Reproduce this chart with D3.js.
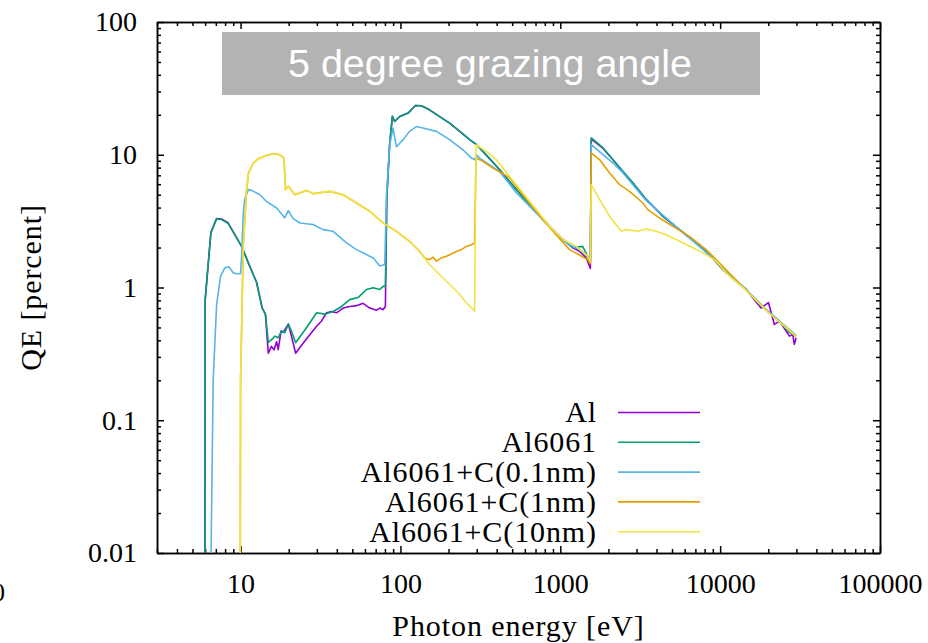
<!DOCTYPE html>
<html lang="en">
<head>
<meta charset="UTF-8">
<title>QE vs photon energy, 5 degree grazing angle</title>
<script src="https://d3js.org/d3.v7.min.js"></script>
<style>
  body { margin: 0; background: #fff; }
  .axis path, .axis line { stroke: #000; stroke-width: 1.5px; }
  .axis text { font-family: "Liberation Serif", serif; font-size: 28px; fill: #000; }
  .label { font-family: "Liberation Serif", serif; font-size: 30px; letter-spacing: 0.9px; fill: #000; }
  .legend text { font-family: "Liberation Serif", serif; font-size: 30px; letter-spacing: 0.9px; fill: #000; }
  .series { fill: none; stroke-width: 1.6px; stroke-linejoin: round; }
</style>
</head>
<body>
<div id="chart"></div>
<script>
// photon energy [eV], QE [percent]
const seriesNames = ["Al", "Al6061", "Al6061+C(0.1nm)", "Al6061+C(1nm)", "Al6061+C(10nm)"];
const seriesColors = ["#9400d3", "#009e73", "#56b4e9", "#e69f00", "#f0e442"];

const al = [
  [5.98, 0.001], [6.0, 0.8], [6.52, 2.59], [7.08, 3.30], [7.61, 3.28], [8.34, 3.08], [9.2, 2.50],
  [10.15, 2.04], [11.4, 1.45], [12.6, 1.09], [13.65, 0.70], [14.3, 0.63], [14.9, 0.32], [15.6, 0.36],
  [16.2, 0.34], [16.8, 0.39], [17.2, 0.34], [17.9, 0.47], [18.5, 0.46], [19.9, 0.53], [20.8, 0.43],
  [22.1, 0.32], [24.6, 0.38], [27.1, 0.44], [29.9, 0.51], [32.1, 0.56], [34.5, 0.645], [37.1, 0.66],
  [39.8, 0.645], [43.8, 0.70], [48.2, 0.72], [53.1, 0.73], [58.4, 0.76], [64.3, 0.70], [70.8, 0.675],
  [74.3, 0.70], [77.9, 0.68], [80.5, 0.72], [82.1, 4.59], [85.7, 12.2], [89.1, 19.4], [92.0, 17.8],
  [99.1, 19.4], [111.7, 20.6], [120, 22.5], [124, 23.5], [135, 23.4], [152, 21.8], [176, 19.4],
  [203, 17.3], [235, 15.0], [271, 13.0], [299, 11.9], [328, 10.6], [418, 7.7], [531, 5.46],
  [674, 3.97], [857, 2.89], [1038, 2.30], [1199, 1.99], [1321, 1.87], [1455, 1.67], [1542, 1.39],
  [1563, 13.1], [1846, 11.2], [2133, 9.17], [2461, 7.48], [2844, 6.12], [3451, 4.59], [4375, 3.44],
  [5570, 2.73], [7080, 2.17], [8990, 1.67], [10380, 1.37], [12590, 1.11], [14550, 0.966],
  [16000, 0.837], [18030, 0.70], [20050, 0.77], [21840, 0.527], [23480, 0.558], [25880, 0.47],
  [27100, 0.43], [28440, 0.443], [29110, 0.373], [29850, 0.418]
];

const al6061 = [
  [5.98, 0.001], [6.0, 0.8], [6.52, 2.59], [7.08, 3.30], [7.61, 3.25], [8.34, 3.05], [9.2, 2.50],
  [10.15, 2.04], [11.4, 1.45], [12.6, 1.09], [13.65, 0.70], [14.3, 0.63], [14.9, 0.386], [15.7, 0.406],
  [16.4, 0.43], [17.2, 0.418], [18.0, 0.47], [18.9, 0.456], [19.9, 0.53], [20.8, 0.47], [22.1, 0.384],
  [25.9, 0.50], [29.9, 0.645], [33.6, 0.63], [37.9, 0.66], [42.8, 0.72], [48.2, 0.81], [54.3, 0.84],
  [61.3, 0.966], [67.5, 0.995], [74.3, 0.966], [77.9, 1.02], [80.5, 1.02], [82.1, 4.7], [85.7, 12.4],
  [89.1, 19.6], [92.0, 17.8], [99.1, 19.4], [111.7, 20.6], [120, 22.5], [124, 23.5], [135, 23.4],
  [152, 21.8], [176, 19.4], [203, 17.3], [235, 15.0], [271, 13.0], [299, 11.9], [328, 10.6],
  [418, 7.7], [531, 5.46], [674, 3.97], [857, 2.89], [1038, 2.30], [1199, 2.0], [1380, 2.04],
  [1455, 1.8], [1542, 1.57], [1563, 13.4], [1846, 11.3], [2133, 9.2], [2461, 7.5], [2844, 6.15],
  [3451, 4.6], [4375, 3.45], [5570, 2.73], [7080, 2.17], [8990, 1.67], [10380, 1.37], [12590, 1.11],
  [14550, 0.966], [16000, 0.84], [18030, 0.73], [20300, 0.65], [23480, 0.555], [27100, 0.459],
  [29850, 0.428]
];

const c01nm = [
  [6.43, 0.002], [6.74, 0.203], [7.08, 0.745], [7.5, 1.22], [7.98, 1.41], [8.45, 1.43], [8.99, 1.29],
  [9.44, 1.27], [10.0, 1.27], [10.15, 1.72], [10.4, 3.64], [10.6, 4.59], [11.2, 5.46], [11.7, 5.39],
  [13.2, 5.0], [14.5, 4.46], [16.8, 3.97], [18.9, 3.34], [19.9, 3.79], [21.3, 3.30], [23.5, 3.06],
  [28.4, 2.98], [32.8, 2.73], [37.9, 2.65], [46.0, 2.17], [53.1, 1.93], [61.3, 1.77], [67.5, 1.67],
  [74.3, 1.45], [79.8, 1.49], [81.8, 5.0], [85.7, 11.9], [89.9, 15.9], [94.4, 11.5], [104, 13.0],
  [114, 15.0], [126, 16.3], [138, 15.9], [168, 15.0], [203, 13.0], [246, 10.9], [278, 9.44],
  [291, 9.17], [299, 10.0], [313, 9.44], [418, 7.45], [531, 5.18], [674, 3.86], [857, 2.87],
  [1038, 2.26], [1199, 2.03], [1321, 1.93], [1455, 1.74], [1542, 1.57], [1563, 11.9], [2133, 8.66],
  [2461, 7.33], [3451, 4.51], [5570, 2.73], [8990, 1.67], [14550, 0.966], [20300, 0.65], [29850, 0.436]
];

const c1nm = [
  [9.94, 0.002], [10.0, 0.203], [10.4, 2.04], [10.9, 5.46], [11.2, 7.28], [12.0, 8.66], [12.9, 9.33],
  [14.5, 9.88], [16.0, 10.2], [17.6, 10.0], [18.7, 9.44], [19.1, 5.46], [19.9, 5.78], [21.8, 5.0],
  [25.9, 5.39], [28.4, 5.09], [36.1, 5.30], [43.8, 5.0], [53.1, 4.33], [64.3, 3.75], [77.9, 3.06],
  [94.4, 2.65], [114, 2.23], [132, 1.87], [142, 1.67], [152, 1.62], [160, 1.69], [168, 1.58],
  [180, 1.67], [194, 1.72], [208, 1.79], [224, 1.87], [241, 1.93], [258, 2.04], [278, 2.1],
  [291, 2.17], [297, 9.44], [328, 8.91], [379, 7.94], [482, 6.72], [584, 5.0],
  [708, 3.73], [857, 2.83], [1143, 1.93], [1488, 1.62], [1542, 1.51], [1563, 10.3], [1762, 9.17],
  [2033, 7.28], [2350, 5.95], [2712, 5.30], [3283, 4.33], [3528, 3.86], [4170, 3.34], [5058, 2.89],
  [6427, 2.43], [8176, 1.93], [9910, 1.53], [14550, 0.95], [20300, 0.64], [29850, 0.428]
];

const c10nm = [
  [9.94, 0.002], [10.0, 0.203], [10.4, 2.04], [10.9, 5.46], [11.2, 7.28], [12.0, 8.66], [12.9, 9.33],
  [14.5, 9.88], [16.0, 10.2], [17.6, 10.0], [18.7, 9.44], [19.1, 5.46], [19.9, 5.78], [21.8, 5.0],
  [25.9, 5.39], [28.4, 5.09], [36.1, 5.30], [43.8, 5.0], [53.1, 4.33], [64.3, 3.75], [77.9, 3.06],
  [94.4, 2.65], [114, 2.23], [132, 1.87], [152, 1.49], [185, 1.18], [213, 0.995], [235, 0.886],
  [258, 0.767], [278, 0.703], [291, 0.663], [297, 11.9], [345, 10.6], [398, 9.17], [482, 6.87],
  [584, 5.15], [708, 3.86], [857, 2.89], [1038, 2.30], [1259, 2.04], [1488, 1.72], [1542, 1.57],
  [1563, 5.95], [1762, 4.59], [2033, 3.44], [2405, 2.65], [2585, 2.73], [3055, 2.65], [3451, 2.76],
  [3981, 2.65], [4597, 2.50], [5570, 2.23], [6745, 1.99], [8176, 1.77], [9440, 1.58], [10900, 1.29],
  [14550, 0.95], [20300, 0.64], [29850, 0.428]
];

const allSeries = [al, al6061, c01nm, c1nm, c10nm];

const xMajor = [10, 100, 1000, 10000, 100000];
const yMajor = [0.01, 0.1, 1, 10, 100];
const yTickLabels = ["0.01", "0.1", "1", "10", "100"];

const width = 928, height = 643;
const plotL = 157, plotR = 880, plotT = 22, plotB = 553;

const x = d3.scaleLog().domain([3, 100000]).range([plotL, plotR]);
const y = d3.scaleLog().domain([0.01, 100]).range([plotB, plotT]);

// minor ticks 2..9 in each decade
const xMinor = [];
[1, 10, 100, 1000, 10000].forEach(d => {
  for (let k = 2; k <= 9; k++) if (d * k >= 3 && d * k <= 100000) xMinor.push(d * k);
});
const yMinor = [];
[0.01, 0.1, 1, 10].forEach(d => {
  for (let k = 2; k <= 9; k++) yMinor.push(d * k);
});

const svg = d3.select("#chart").append("svg")
  .attr("width", width)
  .attr("height", height);

svg.append("defs").append("clipPath").attr("id", "plot-clip")
  .append("rect")
  .attr("x", plotL).attr("y", plotT)
  .attr("width", plotR - plotL).attr("height", plotB - plotT);

// axes with inward ticks, mirrored top and right (no labels there)
const major = 7, minor = 4;

svg.append("g").attr("class", "axis")
  .attr("transform", `translate(0,${plotB})`)
  .call(d3.axisBottom(x).tickValues(xMajor).tickFormat(d3.format("d"))
    .tickSizeInner(-major).tickSizeOuter(0).tickPadding(20));
svg.append("g").attr("class", "axis")
  .attr("transform", `translate(0,${plotB})`)
  .call(d3.axisBottom(x).tickValues(xMinor).tickFormat("").tickSizeInner(-minor).tickSizeOuter(0));
svg.append("g").attr("class", "axis")
  .attr("transform", `translate(0,${plotT})`)
  .call(d3.axisTop(x).tickValues(xMajor).tickFormat("").tickSizeInner(-major).tickSizeOuter(0));
svg.append("g").attr("class", "axis")
  .attr("transform", `translate(0,${plotT})`)
  .call(d3.axisTop(x).tickValues(xMinor).tickFormat("").tickSizeInner(-minor).tickSizeOuter(0));

svg.append("g").attr("class", "axis")
  .attr("transform", `translate(${plotL},0)`)
  .call(d3.axisLeft(y).tickValues(yMajor).tickFormat((d, i) => yTickLabels[i])
    .tickSizeInner(-major).tickSizeOuter(0).tickPadding(20));
svg.append("g").attr("class", "axis")
  .attr("transform", `translate(${plotL},0)`)
  .call(d3.axisLeft(y).tickValues(yMinor).tickFormat("").tickSizeInner(-minor).tickSizeOuter(0));
svg.append("g").attr("class", "axis")
  .attr("transform", `translate(${plotR},0)`)
  .call(d3.axisRight(y).tickValues(yMajor).tickFormat("").tickSizeInner(-major).tickSizeOuter(0));
svg.append("g").attr("class", "axis")
  .attr("transform", `translate(${plotR},0)`)
  .call(d3.axisRight(y).tickValues(yMinor).tickFormat("").tickSizeInner(-minor).tickSizeOuter(0));

// title box
svg.append("rect")
  .attr("x", 222).attr("y", 32)
  .attr("width", 538).attr("height", 63)
  .attr("fill", "#b3b3b3");
svg.append("text")
  .attr("x", 490).attr("y", 77)
  .attr("text-anchor", "middle")
  .style("font-family", "'Liberation Sans', Arial, sans-serif")
  .style("font-size", "39.5px")
  .style("fill", "#fff")
  .text("5 degree grazing angle");

// curves
const line = d3.line().x(d => x(d[0])).y(d => y(d[1]));
svg.append("g").attr("clip-path", "url(#plot-clip)")
  .selectAll("path")
  .data(allSeries)
  .join("path")
  .attr("class", "series")
  .attr("stroke", (d, i) => seriesColors[i])
  .attr("d", line);

// legend
const legend = svg.append("g").attr("class", "legend")
  .selectAll("g")
  .data(seriesNames)
  .join("g")
  .attr("transform", (d, i) => `translate(0,${412.5 + i * 29.8})`);
legend.append("text")
  .attr("x", 597).attr("y", 0).attr("dy", "0.33em")
  .attr("text-anchor", "end")
  .text(d => d);
legend.append("line")
  .attr("x1", 618).attr("x2", 700)
  .attr("stroke", (d, i) => seriesColors[i])
  .attr("stroke-width", 1.6);

// axis titles
svg.append("text").attr("class", "label")
  .attr("x", (plotL + plotR) / 2).attr("y", 636)
  .attr("text-anchor", "middle")
  .text("Photon energy [eV]");
svg.append("text").attr("class", "label")
  .attr("transform", `translate(41,${(plotT + plotB) / 2}) rotate(-90)`)
  .attr("text-anchor", "middle")
  .text("QE [percent]");

// cut-off label of the neighbouring panel at the left edge
svg.append("text").attr("class", "label")
  .attr("x", 6).attr("y", 601)
  .attr("text-anchor", "end")
  .style("font-size", "26px")
  .text("0");
</script>
</body>
</html>
